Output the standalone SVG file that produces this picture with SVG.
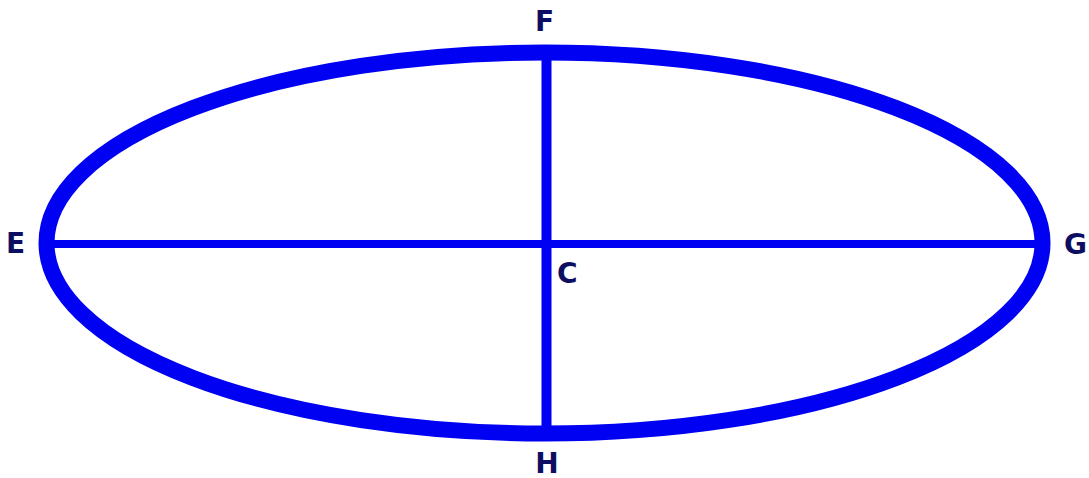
<svg xmlns="http://www.w3.org/2000/svg" width="1089" height="478" viewBox="0 0 1089 478">
<style>
.lbl{font-family:"DejaVu Sans",Verdana,sans-serif;font-weight:bold;font-size:28px;fill:#0d0d62}
.blue{stroke:#0000f2;fill:none}
</style>
<rect width="1089" height="478" fill="#fff"/>
<g id="ellipse"><ellipse class="blue" cx="544.5" cy="243" rx="498" ry="190.5" stroke-width="16"/></g>
<g id="connectors">
<line class="blue" x1="50" y1="244" x2="1040" y2="244" stroke-width="8"/>
<line class="blue" x1="546.5" y1="55" x2="546.5" y2="430" stroke-width="10"/>
</g>
<g id="E"><text class="lbl" x="6" y="253">E</text></g>
<g id="F"><text class="lbl" x="544.5" y="31" text-anchor="middle">F</text></g>
<g id="G"><text class="lbl" x="1064" y="254">G</text></g>
<g id="H"><text class="lbl" x="547" y="473" text-anchor="middle">H</text></g>
<g id="C"><text class="lbl" x="557" y="283">C</text></g>
</svg>
